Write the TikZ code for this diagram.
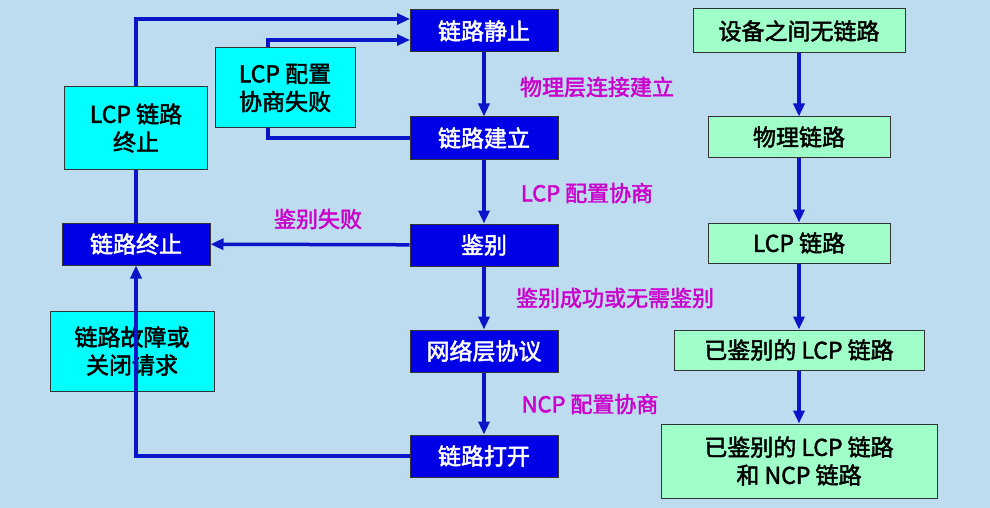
\documentclass[tikz,border=0pt]{standalone}
\usepackage{fontspec}
\setmainfont{Noto Sans CJK SC}[FakeBold=2]
\usetikzlibrary{arrows.meta}
\definecolor{bg}{HTML}{BDDCF0}
\definecolor{bl}{HTML}{0000E6}
\definecolor{ln}{HTML}{0A14C8}
\definecolor{cy}{HTML}{00FFFF}
\definecolor{gr}{HTML}{A0FFC8}
\definecolor{mg}{HTML}{CC00CC}
\begin{document}
\begin{tikzpicture}[x=1pt,y=-1pt,
  box/.style={draw=black!80,line width=1pt,inner sep=0pt,font=\fontsize{23}{28}\selectfont,align=center},
  bb/.style={box,fill=bl,text=white},
  cb/.style={box,fill=cy,text=black},
  gb/.style={box,fill=gr,text=black},
  lab/.style={text=mg,font=\fontsize{22}{26}\selectfont},
  ar/.style={draw=ln,line width=3.5pt,-{Triangle[length=13pt,width=11pt]}},
  pl/.style={draw=ln,line width=3.5pt}]
\fill[bg] (0,0) rectangle (990,508);
\useasboundingbox (0,0) rectangle (990,508);
% blue
\node[bb,minimum width=148pt,minimum height=42pt] (s) at (484,31) {链路静止};
\node[bb,minimum width=148pt,minimum height=42pt] (e) at (484,138) {链路建立};
\node[bb,minimum width=148pt,minimum height=42pt] (a) at (484,245) {鉴别};
\node[bb,minimum width=148pt,minimum height=42pt] (n) at (484,351) {网络层协议};
\node[bb,minimum width=148pt,minimum height=42pt] (o) at (484,456) {链路打开};
\node[bb,minimum width=148pt,minimum height=42pt] (t) at (136,244) {链路终止};
% cyan
\node[cb,minimum width=143pt,minimum height=82pt] (lt) at (136,128) {LCP 链路\\终止};
\node[cb,minimum width=140pt,minimum height=80pt] (lf) at (285,88) {LCP 配置\\协商失败};
\node[cb,minimum width=164pt,minimum height=80pt] (fc) at (132,351) {链路故障或\\关闭请求};
% green
\node[gb,minimum width=212pt,minimum height=44pt] (g1) at (799,31) {设备之间无链路};
\node[gb,minimum width=182pt,minimum height=40pt] (g2) at (799,137) {物理链路};
\node[gb,minimum width=182pt,minimum height=40pt] (g3) at (799,243) {LCP 链路};
\node[gb,minimum width=250pt,minimum height=40pt] (g4) at (799,350) {已鉴别的 LCP 链路};
\node[gb,minimum width=276pt,minimum height=74pt] (g5) at (799,461) {已鉴别的 LCP 链路\\和 NCP 链路};
\coordinate (s1) at (410,19);
\coordinate (s2) at (410,40);
\coordinate (fb) at (268,0);
% main chain
\draw[ar] (s) -- (e);
\draw[ar] (e) -- (a);
\draw[ar] (a) -- (n);
\draw[ar] (n) -- (o);
\draw[ar] (a) -- (t);
% green chain
\draw[ar] (g1) -- (g2);
\draw[ar] (g2) -- (g3);
\draw[ar] (g3) -- (g4);
\draw[ar] (g4) -- (g5);
% loops
\draw[ar] (o.west) -| (t.south);
\draw[pl] (t.north) -- (lt.south);
\draw[ar] (lt.north) |- (s1);
\draw[pl] (e.west) -| (fb |- lf.south);
\draw[ar] (fb |- lf.north) |- (s2);
% labels
\node[lab] (l1) at (597,87) {物理层连接建立};
\node[lab] (l2) at (587,193) {LCP 配置协商};
\node[lab] (l3) at (318,219) {鉴别失败};
\node[lab] (l4) at (615,298) {鉴别成功或无需鉴别};
\node[lab] (l5) at (590,404) {NCP 配置协商};
\end{tikzpicture}
\end{document}
